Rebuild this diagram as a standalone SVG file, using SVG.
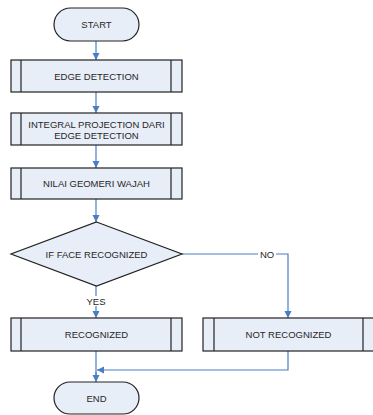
<svg xmlns="http://www.w3.org/2000/svg" width="373" height="415" viewBox="0 0 373 415">
<style>
.s{fill:#E8EEF8;stroke:#222;stroke-width:1.2}
.i{stroke:#222;stroke-width:1.2;fill:none}
.t{font-family:"Liberation Sans",Arial,sans-serif;font-size:9.5px;fill:#262626;text-anchor:middle}
.c{stroke:#4A7EC4;stroke-width:1.2;fill:none;marker-end:url(#a)}
.n{stroke:#4A7EC4;stroke-width:1.2;fill:none}
</style>
<defs>
<marker id="a" markerWidth="8" markerHeight="8" refX="7" refY="4" orient="auto" markerUnits="userSpaceOnUse">
<path d="M0,0.5 L7,4 L0,7.5 Z" fill="#4A7EC4"/>
</marker>
</defs>
<rect width="373" height="415" fill="#fff"/>
<g id="connectors">
<path class="c" d="M96,41 V60"/>
<path class="c" d="M96,92 V113"/>
<path class="c" d="M96,145 V168"/>
<path class="c" d="M96,199 V222"/>
<path class="c" d="M96,286 V318"/>
<path class="c" d="M182,254 H288 V318"/>
<path class="n" d="M96,351 V380"/>
<path class="c" d="M96,372 V382"/>
<path class="c" d="M288,351 V370 H97"/>
<rect x="258" y="249" width="18" height="10" fill="#fff"/>
<text class="t" x="267" y="257.5">NO</text>
<rect x="84" y="296" width="24" height="10" fill="#fff"/>
<text class="t" x="96" y="304.5">YES</text>
</g>
<g id="start">
<rect class="s" x="54" y="8" width="85" height="33" rx="16.5"/>
<text class="t" x="96.5" y="28">START</text>
</g>
<g id="edge">
<rect class="s" x="11" y="60" width="171" height="32"/>
<path class="i" d="M21,60 V92 M171,60 V92"/>
<text class="t" x="96.5" y="79.5">EDGE DETECTION</text>
</g>
<g id="integral">
<rect class="s" x="11" y="113" width="171" height="32"/>
<path class="i" d="M21,113 V145 M171,113 V145"/>
<text class="t" x="96.5" y="127.5">INTEGRAL PROJECTION DARI</text>
<text class="t" x="96.5" y="138.5">EDGE DETECTION</text>
</g>
<g id="nilai">
<rect class="s" x="11" y="168" width="171" height="31"/>
<path class="i" d="M21,168 V199 M171,168 V199"/>
<text class="t" x="96.5" y="187">NILAI GEOMERI WAJAH</text>
</g>
<g id="decision">
<path class="s" d="M96.5,222 L182,254 L96.5,286 L11,254 Z"/>
<text class="t" x="96.5" y="257.5">IF FACE RECOGNIZED</text>
</g>
<g id="recognized">
<rect class="s" x="11" y="318" width="171" height="33"/>
<path class="i" d="M21,318 V351 M171,318 V351"/>
<text class="t" x="96.5" y="338">RECOGNIZED</text>
</g>
<g id="notrecognized">
<rect class="s" x="203" y="318" width="171" height="33"/>
<path class="i" d="M214,318 V351 M363,318 V351"/>
<text class="t" x="288.5" y="338">NOT RECOGNIZED</text>
</g>
<g id="end">
<rect class="s" x="54" y="382" width="85" height="32" rx="16"/>
<text class="t" x="96.5" y="401.5">END</text>
</g>
</svg>
